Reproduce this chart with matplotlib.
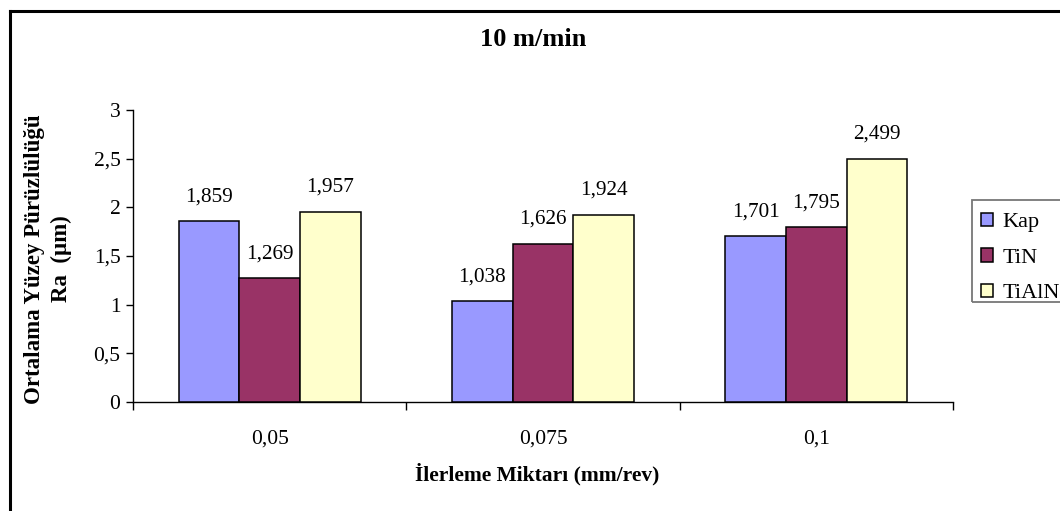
import matplotlib
matplotlib.use("Agg")
import matplotlib.pyplot as plt
from matplotlib.lines import Line2D
from matplotlib.patches import Rectangle
import numpy as np

categories = ["0,05", "0,075", "0,1"]
series_names = ["Kap", "TiN", "TiAlN"]
kap = [1.859, 1.038, 1.701]
tin = [1.269, 1.626, 1.795]
tialn = [1.957, 1.924, 2.499]
colors = ["#9999FF", "#993366", "#FFFFCC"]
y_ticks = [0, 0.5, 1, 1.5, 2, 2.5, 3]

plt.rcParams["font.family"] = ["Liberation Serif", "DejaVu Serif"]

W, H = 1060, 511
fig = plt.figure(figsize=(W / 100, H / 100), dpi=100)
ax = fig.add_axes([133 / W, 1 - 402 / H, (953 - 133) / W, (402 - 110) / H])

x = np.arange(len(categories))
width = 1 / 4.5
series = [kap, tin, tialn]
for i, (vals, name, col) in enumerate(zip(series, series_names, colors)):
    pos = x + (i - 1) * width
    ax.bar(pos, vals, width, color=col, edgecolor="black", linewidth=1.1,
           label=name, zorder=3)
    for px, v in zip(pos, vals):
        ax.annotate(f"{v:.3f}".replace(".", ","), (px, v),
                    xytext=(0, 17.5), textcoords="offset points",
                    ha="center", va="center", fontsize=15.3)

ax.set_xlim(-0.5, len(categories) - 0.5)
ax.set_ylim(0, 3)
ax.set_yticks(y_ticks)
ax.set_yticklabels([f"{t:g}".replace(".", ",") for t in y_ticks], fontsize=15.5)
ax.tick_params(axis="y", direction="out", length=5, width=1, pad=4)

# category boundaries carry the tick marks, centres carry the labels
ax.set_xticks(np.arange(len(categories) + 1) - 0.5)
ax.set_xticklabels([])
ax.set_xticks(x, minor=True)
ax.set_xticklabels(categories, minor=True, fontsize=15.5)
ax.tick_params(axis="x", which="major", direction="out", length=6, width=1)
ax.tick_params(axis="x", which="minor", length=0, pad=20)

for s in ["top", "right"]:
    ax.spines[s].set_visible(False)
for s in ["left", "bottom"]:
    ax.spines[s].set_linewidth(1)
    ax.spines[s].set_color("black")

fig.text(533 / W, 1 - 39 / H, "10 m/min", ha="center", va="center",
         fontsize=19, fontweight="bold")
fig.text(537 / W, 1 - 474 / H, "İlerleme Miktarı (mm/rev)", ha="center",
         va="center", fontsize=15.5, fontweight="bold")
fig.text(48 / W, 1 - 259 / H, "Ortalama Yüzey Pürüzlülüğü\nRa  (µm)",
         ha="center", va="center", rotation=90, fontsize=16.5,
         fontweight="bold", linespacing=1.35, multialignment="center")

# legend entries, with a separate box drawn around them
leg = fig.legend(loc="center left", bbox_to_anchor=(981 / W, 1 - 258 / H),
                 fontsize=16, frameon=False,
                 handlelength=0.55, handleheight=0.55, handletextpad=0.4,
                 labelspacing=0.72, borderpad=0, borderaxespad=0)
fig.add_artist(Rectangle((972 / W, 1 - 302 / H), 0.2, 102 / H,
                         transform=fig.transFigure, facecolor="none",
                         edgecolor="#777777", linewidth=1.3))

# outer chart border (top and left edges fall inside the canvas)
fig.add_artist(Line2D([10 / W, 10 / W], [0, 1 - 11 / H], color="black",
                      linewidth=2.2, transform=fig.transFigure))
fig.add_artist(Line2D([10 / W, 1], [1 - 11 / H, 1 - 11 / H], color="black",
                      linewidth=2.2, transform=fig.transFigure))

fig.savefig("out.png", dpi=100, facecolor="white")
